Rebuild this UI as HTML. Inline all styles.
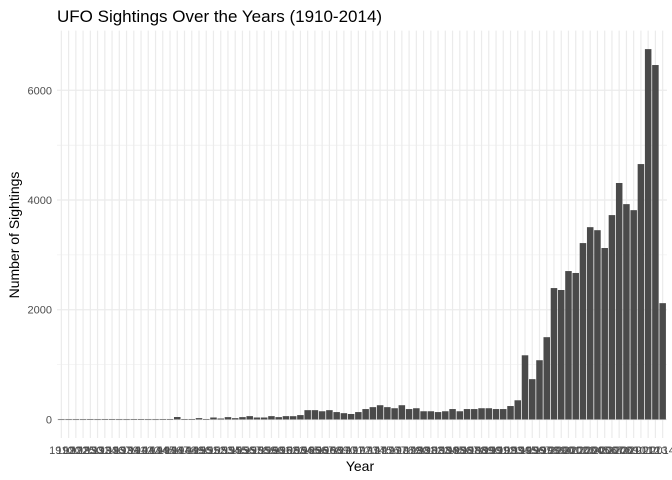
<!DOCTYPE html>
<html><head><meta charset="utf-8"><style>
body{margin:0;background:#fff;}
svg{display:block;font-family:"Liberation Sans",sans-serif;}
</style></head><body>
<svg id="chart" width="672" height="480">
<text x="57" y="22" font-size="17" fill="#000">UFO Sightings Over the Years (1910-2014)</text>
<text x="360" y="471" font-size="14" text-anchor="middle" fill="#000">Year</text>
<text transform="translate(19,235) rotate(-90)" font-size="14" text-anchor="middle" fill="#000">Number of Sightings</text>
<g id="grid"></g><g id="bars"></g><g id="yticks"></g><g id="xticks"></g>
</svg>
<script>
const years = [1910,1920,1922,1925,1930,1931,1934,1936,1937,1939,1941,1942,1943,1944,1945];
for (let y = 1946; y <= 2014; y++) years.push(y);
const counts = [1,1,1,1,2,1,2,2,1,1,2,2,1,1,3,4,45,4,8,25,8,
36,18,43,24,43,61,36,36,61,43,61,
60,80,170,170,150,170,135,115,100,135,190,225,260,225,205,260,190,205,150,150,135,150,190,150,190,190,205,205,190,190,245,350,
1170,735,1080,1500,2395,2360,2705,2670,3215,3505,3450,3125,3725,4310,3925,3815,4655,6750,6460,2120];
const yTicks = [0,2000,4000,6000];
const yMinor = [1000,3000,5000];

const NS = "http://www.w3.org/2000/svg";
const pLeft = 57, pRight = 667, pTop = 30.6, pBottom = 438;
const n = years.length;
const step = (pRight - pLeft) / (n - 1 + 1.2);
const xPos = i => pLeft + step * (0.6 + i);
const maxV = Math.max(...counts);
const yMin = -maxV * 0.05, yMax = maxV * 1.05;
const yPos = v => pBottom - (v - yMin) / (yMax - yMin) * (pBottom - pTop);

function mk(tag, attrs, parent) {
  const e = document.createElementNS(NS, tag);
  for (const k in attrs) e.setAttribute(k, attrs[k]);
  parent.appendChild(e);
  return e;
}
const grid = document.getElementById('grid');
yMinor.forEach(v => {
  const l = mk('line', {x1: pLeft, x2: pRight, y1: yPos(v), y2: yPos(v), stroke: '#ebebeb', 'stroke-width': 0.6}, grid);
  
  
});
yTicks.forEach(v => {
  const l = mk('line', {x1: pLeft, x2: pRight, y1: yPos(v), y2: yPos(v), stroke: '#ebebeb', 'stroke-width': 1.2}, grid);
  
  
});
years.forEach((yr, i) => {
  const l = mk('line', {x1: xPos(i), x2: xPos(i), y1: pTop, y2: pBottom, stroke: '#ebebeb', 'stroke-width': 1.2}, grid);
  
  
});
const bars = document.getElementById('bars');
const bw = step * 0.9;
counts.forEach((v, i) => {
  const r = mk('rect', {x: xPos(i) - bw / 2, y: yPos(v), width: bw, height: Math.max(0.6, yPos(0) - yPos(v)), fill: '#4a4a4a'}, bars);
  
  
});
const yt = document.getElementById('yticks');
yTicks.forEach(v => {
  const t = mk('text', {x: 52, y: yPos(v) + 4, 'font-size': 11, 'text-anchor': 'end', fill: '#4d4d4d'}, yt);
  t.textContent = v;
  
  
});
const xt = document.getElementById('xticks');
years.forEach((yr, i) => {
  const t = mk('text', {x: xPos(i), y: 454, 'font-size': 11, 'text-anchor': 'middle', fill: '#4d4d4d'}, xt);
  t.textContent = yr;
  
  
});
</script>
</body></html>
